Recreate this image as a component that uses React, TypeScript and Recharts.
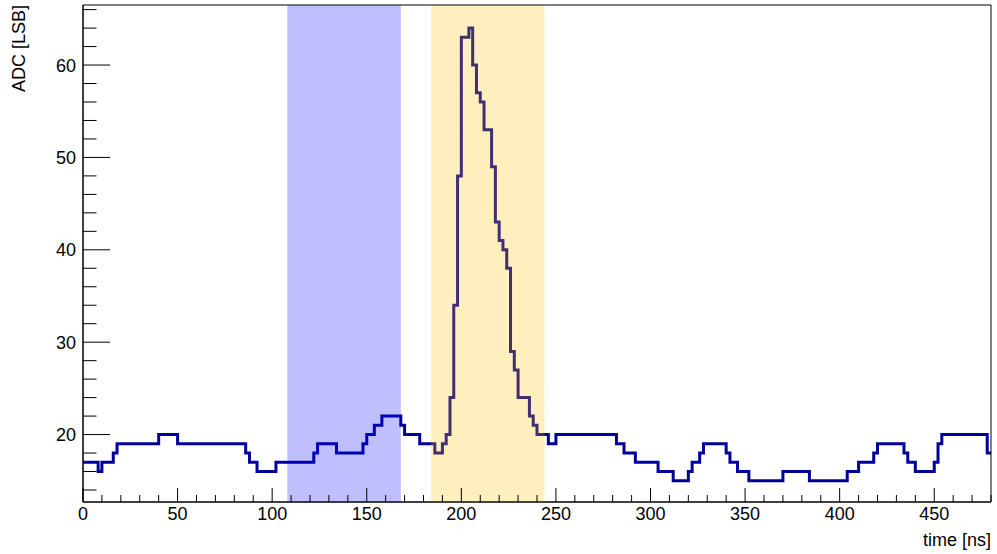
import { ComposedChart, Line, XAxis, YAxis, ReferenceArea } from 'recharts';

// one ADC sample every 2 ns, 240 samples -> 0..480 ns
const BIN_WIDTH = 2;
const ADC = [
  17, 17, 17, 17, 16, 17, 17, 17, 18, 19,
  19, 19, 19, 19, 19, 19, 19, 19, 19, 19,
  20, 20, 20, 20, 20, 19, 19, 19, 19, 19,
  19, 19, 19, 19, 19, 19, 19, 19, 19, 19,
  19, 19, 19, 18, 17, 17, 16, 16, 16, 16,
  16, 17, 17, 17, 17, 17, 17, 17, 17, 17,
  17, 18, 19, 19, 19, 19, 19, 18, 18, 18,
  18, 18, 18, 18, 19, 20, 20, 21, 21, 22,
  22, 22, 22, 22, 21, 20, 20, 20, 20, 19,
  19, 19, 19, 18, 18, 19, 20, 24, 34, 48,
  63, 63, 64, 60, 57, 56, 53, 53, 49, 43,
  41, 40, 38, 29, 27, 24, 24, 24, 22, 21,
  20, 20, 20, 19, 19, 20, 20, 20, 20, 20,
  20, 20, 20, 20, 20, 20, 20, 20, 20, 20,
  20, 19, 19, 18, 18, 18, 17, 17, 17, 17,
  17, 17, 16, 16, 16, 16, 15, 15, 15, 15,
  16, 17, 17, 18, 19, 19, 19, 19, 19, 19,
  18, 17, 17, 16, 16, 16, 15, 15, 15, 15,
  15, 15, 15, 15, 15, 16, 16, 16, 16, 16,
  16, 16, 15, 15, 15, 15, 15, 15, 15, 15,
  15, 15, 16, 16, 16, 17, 17, 17, 17, 18,
  19, 19, 19, 19, 19, 19, 19, 18, 17, 17,
  16, 16, 16, 16, 16, 17, 19, 20, 20, 20,
  20, 20, 20, 20, 20, 20, 20, 20, 20, 18,
];

// integration windows (ns)
const PEDESTAL_WINDOW = [108, 168];
const SIGNAL_WINDOW = [184, 244];

const X_LABELS = [0, 50, 100, 150, 200, 250, 300, 350, 400, 450];
const Y_LABELS = [20, 30, 40, 50, 60];
const X_TICKS = Array.from({ length: 49 }, (_, i) => i * 10);
const Y_TICKS = Array.from({ length: 27 }, (_, i) => 14 + i * 2);

const X_DOMAIN = [0, 480];
const Y_DOMAIN = [12.7, 66.5];

const FONT = "'Liberation Sans', Arial, Helvetica, sans-serif";

const data = ADC.map((v, i) => ({ t: i * BIN_WIDTH, adc: v }));
data.push({ t: ADC.length * BIN_WIDTH, adc: ADC[ADC.length - 1] });

function XTick({ x, y, payload }: any) {
  const major = X_LABELS.includes(payload.value);
  return (
    <g>
      <line x1={x} x2={x} y1={y} y2={y - (major ? 14 : 7)} stroke='#000' />
      {major && (
        <text x={x} y={y + 18} textAnchor='middle' fontSize={18} fontFamily={FONT} fill='#000'>
          {payload.value}
        </text>
      )}
    </g>
  );
}

function YTick({ x, y, payload }: any) {
  const major = Y_LABELS.includes(payload.value);
  return (
    <g>
      <line x1={x} x2={x + (major ? 27 : 13.5)} y1={y} y2={y} stroke='#000' />
      {major && (
        <text x={x - 7} y={y + 6.5} textAnchor='end' fontSize={18} fontFamily={FONT} fill='#000'>
          {payload.value}
        </text>
      )}
    </g>
  );
}

export default function App() {
  return (
    <div style={{ position: 'absolute', left: 0, top: 0, background: '#fff' }}>
      <ComposedChart
        width={997}
        height={554}
        data={data}
        margin={{ top: 5, right: 6, bottom: 0, left: 0 }}
      >
        <XAxis
          dataKey='t'
          type='number'
          domain={X_DOMAIN}
          ticks={X_TICKS}
          interval={0}
          height={52}
          tickSize={0}
          tickMargin={0}
          tickLine={false}
          tick={<XTick />}
          axisLine={{ stroke: '#000' }}
          allowDataOverflow
          label={{
            content: ({ viewBox }: any) => (
              <text
                x={viewBox.x + viewBox.width}
                y={viewBox.y + 44}
                textAnchor='end'
                fontSize={18}
                fontFamily={FONT}
                fill='#000'
              >
                time [ns]
              </text>
            ),
          }}
        />
        <YAxis
          type='number'
          domain={Y_DOMAIN}
          ticks={Y_TICKS}
          interval={0}
          width={83}
          tickSize={0}
          tickMargin={0}
          tickLine={false}
          tick={<YTick />}
          axisLine={{ stroke: '#000' }}
          allowDataOverflow
          label={{
            content: () => (
              <text
                x={25}
                y={5}
                transform='rotate(-90, 25, 5)'
                textAnchor='end'
                fontSize={18}
                fontFamily={FONT}
                fill='#000'
              >
                ADC [LSB]
              </text>
            ),
          }}
        />
        <Line
          type='stepAfter'
          dataKey='adc'
          stroke='#000099'
          strokeWidth={3}
          dot={false}
          activeDot={false}
          isAnimationActive={false}
        />
        <ReferenceArea
          x1={PEDESTAL_WINDOW[0]}
          x2={PEDESTAL_WINDOW[1]}
          fill='#0000ff'
          fillOpacity={0.25}
          stroke='none'
          zIndex={1000}
        />
        <ReferenceArea
          x1={SIGNAL_WINDOW[0]}
          x2={SIGNAL_WINDOW[1]}
          fill='#ffc000'
          fillOpacity={0.25}
          stroke='none'
          zIndex={1000}
        />
        {/* frame around the pad */}
        <ReferenceArea
          x1={X_DOMAIN[0]}
          x2={X_DOMAIN[1]}
          y1={Y_DOMAIN[0]}
          y2={Y_DOMAIN[1]}
          fill='none'
          stroke='#000'
          strokeWidth={1}
          zIndex={1001}
        />
      </ComposedChart>
    </div>
  );
}
